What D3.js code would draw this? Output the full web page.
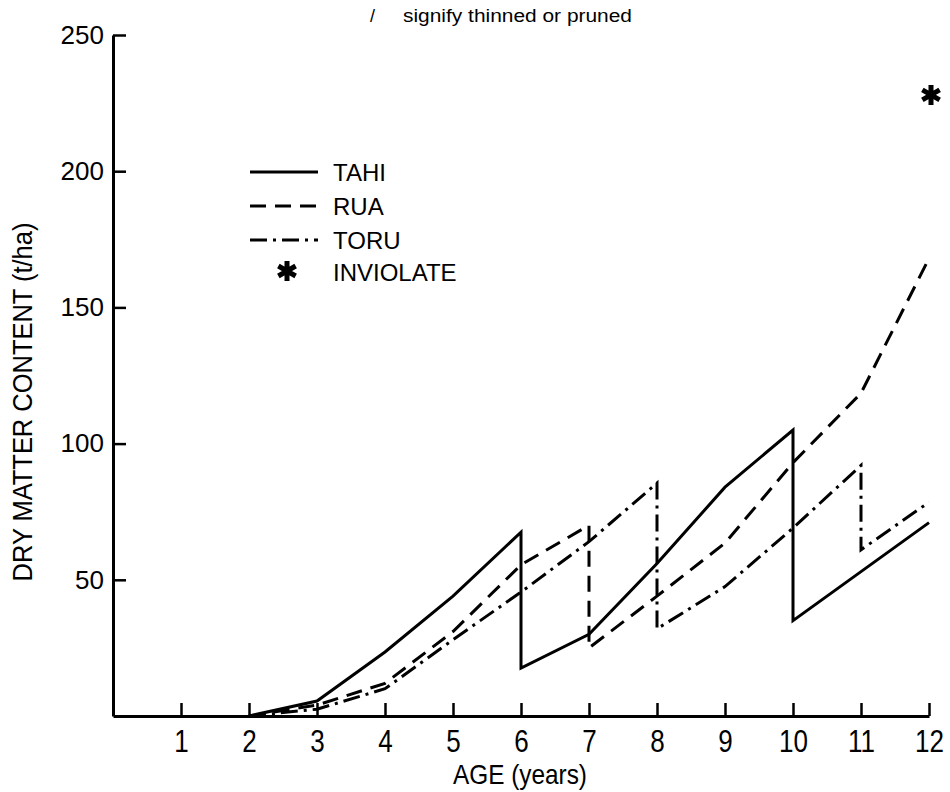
<!DOCTYPE html>
<html><head><meta charset="utf-8">
<script src="https://cdn.jsdelivr.net/npm/d3@7"></script>
<style>
body{margin:0;background:#fff;}
text{font-family:"Liberation Sans",Arial,sans-serif;fill:#000;}
</style></head>
<body><svg id="c" width="950" height="792"></svg>
<script>
const tahiAge = [2,3,4,5,6,6,7,8,9,10,10,11,12];
const tahiDM  = [0,5.5,23.5,44,67.5,17.6,30,56,84,105,35,53,71];
const ruaAge  = [2,3,4,5,6,7,7,8,9,10,11,12];
const ruaDM   = [0,4,12,31,55.5,70,25,44,63.5,93,118.5,168];
const toruAge = [2,3,4,5,6,7,8,8,9,10,11,11,12];
const toruDM  = [0,2.5,10,28,45.5,64,85.5,32,47.5,69,92,61,78.5];
const inviolateAge = [12];
const inviolateDM  = [228];
const xTicks = [1,2,3,4,5,6,7,8,9,10,11,12];
const yTicks = [50,100,150,200,250];

const svg = d3.select("#c");
const x = d3.scaleLinear().domain([0,12]).range([113,929]);
const y = d3.scaleLinear().domain([0,250]).range([716,35]);

// axes
const gx = svg.append("g").attr("transform","translate(0,716)")
  .call(d3.axisBottom(x).tickValues(xTicks).tickSize(-13).tickSizeOuter(0).tickPadding(12));
gx.select(".domain").attr("stroke","#000").attr("stroke-width",3);
gx.selectAll(".tick line").attr("stroke","#000").attr("stroke-width",2.5);
gx.selectAll(".tick text").attr("font-size",31).attr("y",0).attr("dy",0)
  .attr("transform","translate(0,36) scale(0.84,1)");

const gy = svg.append("g").attr("transform","translate(113,0)")
  .call(d3.axisLeft(y).tickValues(yTicks).tickSize(-13).tickSizeOuter(0).tickPadding(10));
gy.select(".domain").attr("stroke","#000").attr("stroke-width",3);
gy.selectAll(".tick line").attr("stroke","#000").attr("stroke-width",2.5);
gy.selectAll(".tick text").attr("font-size",26).attr("x",-9);

// labels
svg.append("text").attr("transform","translate(520,784) scale(0.87,1)")
  .attr("text-anchor","middle").attr("font-size",28).text("AGE (years)");
svg.append("text").attr("transform","translate(32,402) rotate(-90) scale(0.91,1)")
  .attr("text-anchor","middle").attr("font-size",28).text("DRY MATTER CONTENT (t/ha)");
svg.append("text").attr("x",370).attr("y",22).attr("font-size",18).text("/");
svg.append("text").attr("x",403).attr("y",22).attr("font-size",18)
  .attr("textLength",229).attr("lengthAdjust","spacingAndGlyphs").text("signify thinned or pruned");

// series
const line = d3.line().x(d=>x(d[0])).y(d=>y(d[1]));
const series = [
  {age:tahiAge, dm:tahiDM, dash:null},
  {age:ruaAge, dm:ruaDM, dash:"16,9"},
  {age:toruAge, dm:toruDM, dash:"17,6,3,6"}
];
series.forEach(s=>{
  svg.append("path").datum(d3.zip(s.age,s.dm)).attr("d",line)
    .attr("fill","none").attr("stroke","#000").attr("stroke-width",3)
    .attr("stroke-linejoin","miter").attr("stroke-dasharray",s.dash);
});
const star = d3.symbol().type(d3.symbolAsterisk).size(280);
svg.selectAll(".inv").data(d3.zip(inviolateAge,inviolateDM)).join("path")
  .attr("transform",d=>`translate(${x(d[0])+2},${y(d[1])})`).attr("d",star)
  .attr("stroke","#000").attr("stroke-width",5).attr("fill","none");

// legend
const legendNames = ["TAHI","RUA","TORU","INVIOLATE"];
const legendDash = [null,"16,9","17,6,3,6"];
const ly = [172,206,240,272];
legendNames.forEach((n,i)=>{
  if(i<3){
    svg.append("line").attr("x1",250).attr("x2",318).attr("y1",ly[i]).attr("y2",ly[i])
      .attr("stroke","#000").attr("stroke-width",3).attr("stroke-dasharray",legendDash[i]);
  } else {
    svg.append("path").attr("transform",`translate(287,${ly[i]-1})`).attr("d",star)
      .attr("stroke","#000").attr("stroke-width",5).attr("fill","none");
  }
  svg.append("text").attr("x",333).attr("y",ly[i]+9).attr("font-size",24).text(n);
});
</script></body></html>
